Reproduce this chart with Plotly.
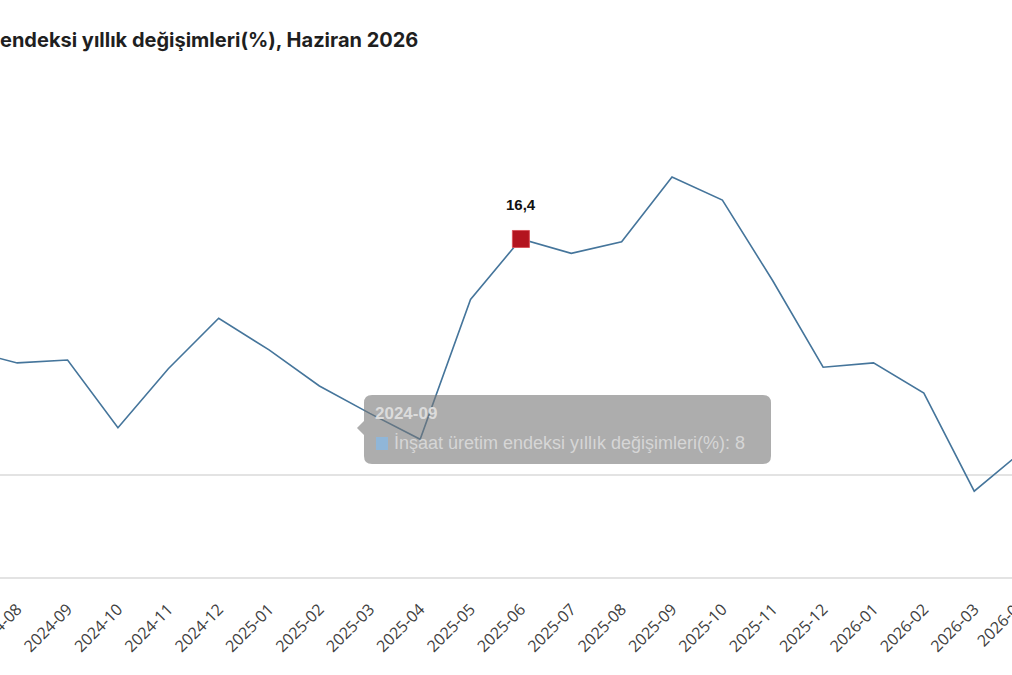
import plotly.graph_objects as go

# monthly categories (2024-07 is only partly visible at the left edge)
months = ["2024-07", "2024-08", "2024-09", "2024-10", "2024-11", "2024-12",
          "2025-01", "2025-02", "2025-03", "2025-04", "2025-05", "2025-06",
          "2025-07", "2025-08", "2025-09", "2025-10", "2025-11", "2025-12",
          "2026-01", "2026-02", "2026-03", "2026-04"]

# yearly change (%)
values = [8.7, 7.8, 8.0, 3.3, 7.4, 10.9,
          8.7, 6.2, 4.3, 2.5, 12.2, 16.4,
          15.4, 16.2, 20.7, 19.1, 13.5, 7.5,
          7.8, 5.7, -1.1, 1.8]

series_name = "İnşaat üretim endeksi yıllık değişimleri(%)"
title_text = "endeksi yıllık değişimleri(%), Haziran 2026"

highlight_month = "2025-06"
tooltip_month = "2024-09"

W, H = 1012, 675
M_T, M_B = 90, 98
plot_h = H - M_T - M_B


def to_paper(px, py):
    # page pixels -> paper fractions (plot area spans the full width)
    return px / W, (H - M_B - py) / plot_h


def rounded_box(x0, y0, x1, y1, r, tip):
    pts = [("M", (x0 + r, y0)), ("L", (x1 - r, y0)), ("Q", (x1, y0), (x1, y0 + r)),
           ("L", (x1, y1 - r)), ("Q", (x1, y1), (x1 - r, y1)),
           ("L", (x0 + r, y1)), ("Q", (x0, y1), (x0, y1 - r)),
           ("L", (x0, tip[1] + 7)), ("L", tip), ("L", (x0, tip[1] - 7)),
           ("L", (x0, y0 + r)), ("Q", (x0, y0), (x0 + r, y0))]
    out = []
    for cmd, *ps in pts:
        coords = " ".join("%.5f,%.5f" % to_paper(*p) for p in ps)
        out.append(cmd + " " + coords)
    return " ".join(out) + " Z"


hi = months.index(highlight_month)
ti = months.index(tooltip_month)

# visible window of the (cropped) chart
x_lo = 1 - 17.2 / 50.37
x_hi = 1 + (W - 17.2) / 50.37
y_unit = 14.41
y_lo = -(H - M_B - 475.3) / y_unit
y_hi = (475.3 - M_T) / y_unit

tick_font = dict(family="Open Sans", size=16, color="#404040")

fig = go.Figure()

fig.add_trace(go.Scatter(
    x=months, y=values, mode="lines", name=series_name,
    line=dict(color="#45759b", width=1.6),
    hoverinfo="skip"
))

fig.add_trace(go.Scatter(
    x=[months[hi]], y=[values[hi]], mode="markers",
    marker=dict(symbol="square", size=17, color="#b3141f",
                line=dict(color="#d9545c", width=1)),
    hoverinfo="skip"
))

fig.add_annotation(
    x=months[hi], y=values[hi], text="<b>%s</b>" % str(values[hi]).replace(".", ","),
    showarrow=False, yshift=34,
    font=dict(family="Liberation Sans, Arial", size=15, color="#111111")
)

# last month's label sits past the right edge, only its start shows
last_frac = (len(months) - 1 - x_lo) / (x_hi - x_lo)
fig.add_annotation(
    xref="paper", yref="paper", x=last_frac - 23.5 / W, y=-45 / plot_h,
    xanchor="center", yanchor="middle", textangle=-45,
    text=months[-1], showarrow=False, font=tick_font
)

# static tooltip left in the screenshot
fig.add_shape(type="path", xref="paper", yref="paper", layer="above",
              path=rounded_box(364, 395, 771, 464, 8, (357, 428)),
              fillcolor="rgba(118,118,118,0.6)", line=dict(width=0))
sx0, sy0 = to_paper(376, 450)
sx1, sy1 = to_paper(388, 437)
fig.add_shape(type="rect", xref="paper", yref="paper", layer="above",
              x0=sx0, y0=sy0, x1=sx1, y1=sy1,
              fillcolor="#90b6d8", line=dict(width=0))
tx, ty = to_paper(373, 413)
fig.add_annotation(xref="paper", yref="paper", x=tx, y=ty, xanchor="left", yanchor="middle",
                   text="<b>%s</b>" % months[ti], showarrow=False,
                   font=dict(family="Liberation Sans, Arial", size=17, color="#dcdcdc"))
tx, ty = to_paper(392, 443)
fig.add_annotation(xref="paper", yref="paper", x=tx, y=ty, xanchor="left", yanchor="middle",
                   text="%s: %g" % (series_name, values[ti]), showarrow=False,
                   font=dict(family="Liberation Sans, Arial", size=18, color="#d6d6d6"))

fig.update_layout(
    width=W, height=H,
    margin=dict(l=0, r=0, t=M_T, b=M_B, pad=0),
    plot_bgcolor="white", paper_bgcolor="white",
    showlegend=False,
    title=dict(text="<b>%s</b>" % title_text, x=0, xref="container", xanchor="left",
               y=1 - 40 / H, yanchor="middle", pad=dict(l=0),
               font=dict(family="Inter", size=20, color="#1f1f1f")),
    xaxis=dict(
        type="category", range=[x_lo, x_hi], automargin=False,
        tickmode="array", tickvals=months, ticktext=months,
        tickangle=-45, ticks="", ticklabelstandoff=15,
        tickfont=tick_font,
        showgrid=False, zeroline=False,
        showline=True, linecolor="#e3e3e3", linewidth=1.5
    ),
    yaxis=dict(
        range=[y_lo, y_hi], showticklabels=False, showgrid=False, automargin=False,
        zeroline=True, zerolinecolor="#e3e3e3", zerolinewidth=1.5
    )
)

# the page body has a default 8px margin; drop it so the figure sits at the window edge
fig.write_html("out.html", config={"displayModeBar": False},
               post_script="document.body.style.margin='0';")
